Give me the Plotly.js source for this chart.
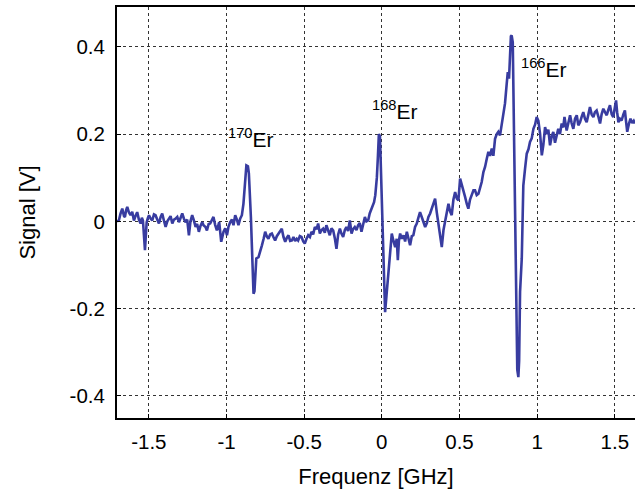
<!DOCTYPE html>
<html>
<head>
<meta charset="utf-8">
<script src="https://cdn.plot.ly/plotly-3.0.1.min.js"></script>
<style>html,body{margin:0;padding:0;background:#fff;}#chart{width:635px;height:489px;}</style>
</head>
<body>
<div id="chart"></div>
<script>
// Frequency offsets [GHz]
const frequency = [
-1.705,-1.693,-1.682,-1.671,-1.660,-1.654,-1.646,-1.639,-1.628,-1.618,-1.607,-1.596,-1.586,-1.575,-1.564,-1.553,-1.545,-1.538,-1.525,-1.514,
-1.506,-1.499,-1.488,-1.478,-1.467,-1.457,-1.446,-1.435,-1.424,-1.414,-1.403,-1.392,-1.381,-1.371,-1.360,-1.349,-1.338,-1.328,-1.317,-1.306,
-1.296,-1.285,-1.274,-1.264,-1.253,-1.242,-1.232,-1.221,-1.210,-1.199,-1.189,-1.178,-1.167,-1.156,-1.148,-1.135,-1.126,-1.115,-1.105,-1.094,
-1.084,-1.073,-1.062,-1.047,-1.040,-1.034,-1.019,-1.008,-0.997,-0.987,-0.976,-0.965,-0.955,-0.944,-0.933,-0.923,-0.912,-0.901,-0.891,-0.880,
-0.872,-0.862,-0.856,-0.843,-0.826,-0.820,-0.808,-0.794,-0.783,-0.772,-0.761,-0.751,-0.740,-0.730,-0.719,-0.708,-0.698,-0.687,-0.676,-0.665,
-0.655,-0.644,-0.633,-0.622,-0.612,-0.601,-0.590,-0.579,-0.569,-0.558,-0.548,-0.539,-0.528,-0.517,-0.506,-0.496,-0.485,-0.474,-0.463,-0.453,
-0.442,-0.431,-0.420,-0.410,-0.399,-0.388,-0.378,-0.367,-0.357,-0.346,-0.335,-0.324,-0.313,-0.302,-0.292,-0.281,-0.270,-0.260,-0.249,-0.238,
-0.228,-0.217,-0.206,-0.195,-0.185,-0.174,-0.163,-0.153,-0.142,-0.131,-0.120,-0.109,-0.099,-0.088,-0.078,-0.067,-0.058,-0.050,-0.042,-0.032,
-0.025,-0.019,-0.012,0.015,0.021,0.030,0.043,0.054,0.064,0.075,0.086,0.096,0.103,0.110,0.118,0.129,0.140,0.150,0.161,0.172,
0.182,0.193,0.203,0.214,0.225,0.235,0.246,0.257,0.268,0.279,0.290,0.300,0.311,0.322,0.332,0.343,0.354,0.365,0.376,0.386,
0.397,0.408,0.418,0.429,0.440,0.450,0.461,0.472,0.483,0.493,0.504,0.515,0.526,0.536,0.547,0.557,0.568,0.579,0.590,0.600,
0.611,0.622,0.633,0.643,0.654,0.665,0.676,0.686,0.697,0.708,0.718,0.729,0.740,0.750,0.761,0.772,0.783,0.793,0.804,0.811,
0.819,0.826,0.831,0.836,0.843,0.872,0.879,0.884,0.890,0.901,0.911,0.922,0.933,0.944,0.954,0.965,0.976,0.987,0.997,1.008,
1.019,1.030,1.040,1.051,1.062,1.072,1.083,1.094,1.104,1.115,1.122,1.136,1.147,1.158,1.168,1.176,1.190,1.201,1.212,1.222,
1.233,1.244,1.255,1.265,1.276,1.287,1.297,1.308,1.319,1.330,1.340,1.351,1.362,1.372,1.383,1.394,1.405,1.415,1.426,1.437,
1.448,1.458,1.469,1.480,1.490,1.500,1.508,1.515,1.523,1.533,1.544,1.555,1.565,1.572,1.580,1.590,1.601,1.612,1.622,1.630
];
// Signal [V]
const signal = [
0.000,0.002,0.018,0.029,0.012,0.010,0.026,0.033,0.020,0.014,0.022,0.002,0.012,0.021,0.004,-0.005,0.008,0.002,-0.066,-0.002,
0.008,0.014,0.006,0.002,0.016,0.014,0.004,-0.005,0.010,0.018,0.002,-0.013,0.000,0.006,0.012,-0.005,0.004,0.006,0.010,-0.002,
0.008,0.018,0.006,-0.002,0.004,-0.032,0.000,0.014,0.002,-0.013,-0.006,-0.024,-0.010,-0.002,-0.009,-0.013,-0.021,-0.006,-0.005,0.002,
0.010,-0.008,-0.021,-0.002,-0.020,-0.047,-0.024,-0.016,-0.032,-0.012,-0.002,0.004,-0.009,0.014,0.004,-0.009,0.006,0.014,0.040,0.101,
0.128,0.126,0.110,0.010,-0.166,-0.160,-0.085,-0.082,-0.070,-0.055,-0.040,-0.024,-0.035,-0.040,-0.030,-0.028,-0.036,-0.044,-0.034,-0.028,
-0.022,-0.017,-0.036,-0.047,-0.038,-0.032,-0.045,-0.044,-0.036,-0.045,-0.040,-0.044,-0.034,-0.036,-0.046,-0.051,-0.040,-0.032,-0.036,-0.024,
-0.030,-0.013,-0.018,-0.005,-0.028,-0.020,-0.017,-0.026,-0.009,-0.020,-0.032,-0.016,-0.021,-0.040,-0.063,-0.030,-0.017,-0.028,-0.036,-0.020,
-0.013,-0.022,0.002,-0.028,-0.018,-0.013,-0.020,-0.009,-0.004,-0.024,-0.005,0.010,0.000,0.002,0.018,0.029,0.036,0.044,0.060,0.100,
0.150,0.200,0.195,-0.190,-0.208,-0.170,-0.116,-0.060,-0.028,-0.045,-0.059,-0.040,-0.089,-0.045,-0.028,-0.040,-0.032,-0.046,-0.024,-0.040,
-0.055,-0.034,-0.032,-0.013,-0.005,0.008,0.021,0.010,0.000,-0.013,-0.004,0.010,0.018,0.030,0.042,0.052,0.020,-0.010,-0.040,-0.059,
-0.020,0.000,0.025,0.040,0.022,0.014,0.050,0.067,0.052,0.048,0.098,0.085,0.070,0.056,0.040,0.029,0.050,0.060,0.071,0.071,
0.060,0.063,0.075,0.090,0.113,0.125,0.144,0.159,0.150,0.167,0.150,0.189,0.200,0.205,0.197,0.220,0.243,0.270,0.315,0.342,
0.327,0.403,0.424,0.426,0.410,-0.340,-0.357,-0.320,-0.162,-0.085,0.082,0.120,0.155,0.165,0.182,0.190,0.212,0.222,0.239,0.230,
0.200,0.151,0.175,0.216,0.200,0.210,0.174,0.195,0.205,0.180,0.189,0.212,0.200,0.224,0.215,0.239,0.208,0.230,0.243,0.225,
0.212,0.235,0.243,0.220,0.227,0.240,0.250,0.235,0.227,0.245,0.262,0.245,0.239,0.250,0.254,0.240,0.224,0.245,0.258,0.250,
0.243,0.255,0.266,0.245,0.239,0.260,0.277,0.250,0.227,0.235,0.231,0.245,0.254,0.230,0.205,0.222,0.235,0.225,0.230,0.224
];
const xTickVals = [-1.5, -1, -0.5, 0, 0.5, 1, 1.5];
const xTickText = ["-1.5", "-1", "-0.5", "0", "0.5", "1", "1.5"];
const yTickVals = [-0.4, -0.2, 0, 0.2, 0.4];
const yTickText = ["-0.4", "-0.2", "0", "0.2", "0.4"];
const isotopeLabels = ["<sup>170</sup>Er", "<sup>168</sup>Er", "<sup>166</sup>Er"];

const FONT = "Liberation Sans, Arial, Helvetica, sans-serif";

const trace = {
  x: frequency, y: signal, type: "scatter", mode: "lines",
  line: {color: "#383ca0", width: 2.6}, hoverinfo: "skip"
};

const labelPos = [[-1.005, 0.157], [-0.078, 0.220], [0.883, 0.318]];
const annotations = isotopeLabels.map((t, i) => ({
  text: t, x: labelPos[i][0], y: labelPos[i][1], xref: "x", yref: "y",
  xanchor: "left", yanchor: "bottom", showarrow: false,
  font: {family: FONT, size: 21, color: "#000"}
}));

const layout = {
  width: 635, height: 489,
  margin: {l: 117, r: 0, t: 7, b: 71},
  paper_bgcolor: "#fff", plot_bgcolor: "#fff",
  showlegend: false,
  font: {family: FONT, color: "#000"},
  xaxis: {
    range: [-1.705, 1.63], tickvals: xTickVals, ticktext: xTickText,
    showgrid: true, gridcolor: "#333", griddash: "dot", gridwidth: 1,
    zeroline: false, showline: true, linecolor: "#000", linewidth: 2, mirror: true,
    ticks: "inside", ticklen: 4, tickcolor: "#000",
    ticklabelstandoff: 4,
    tickfont: {family: FONT, size: 20.5, color: "#000"},
    title: {text: "Frequenz [GHz]", font: {family: FONT, size: 22, color: "#000"}, standoff: 17}
  },
  yaxis: {
    range: [-0.4506, 0.491], tickvals: yTickVals, ticktext: yTickText,
    showgrid: true, gridcolor: "#333", griddash: "dot", gridwidth: 1,
    zeroline: false, showline: true, linecolor: "#000", linewidth: 2, mirror: false,
    ticks: "inside", ticklen: 4, tickcolor: "#000",
    ticklabelstandoff: 6,
    tickfont: {family: FONT, size: 20.5, color: "#000"},
    title: {text: "Signal [V]", font: {family: FONT, size: 22, color: "#000"}, standoff: 28}
  },
  annotations: annotations
};

Plotly.newPlot("chart", [trace], layout, {displayModeBar: false, staticPlot: true});
</script>
</body>
</html>
